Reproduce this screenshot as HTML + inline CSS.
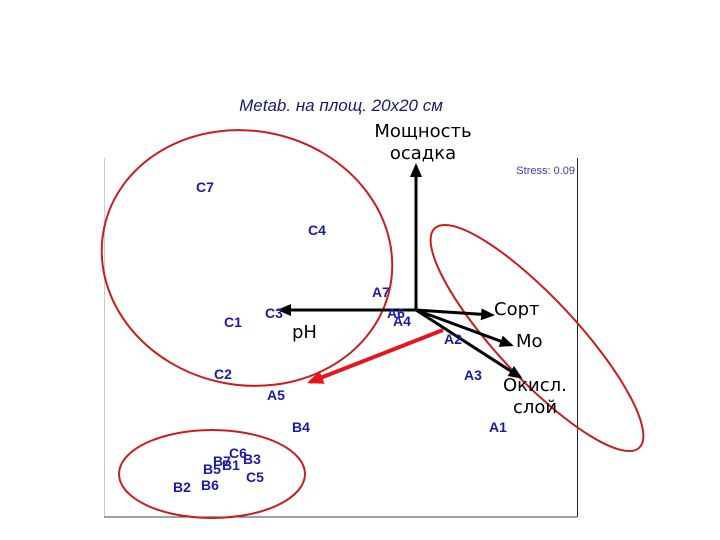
<!DOCTYPE html>
<html><head><meta charset="utf-8"><style>
body{margin:0;background:#fff;width:720px;height:540px;overflow:hidden}
svg{display:block}
.l{font-family:"Liberation Sans",sans-serif;font-weight:bold;font-size:14px;fill:#1a1aa8}
.b{font-family:"DejaVu Sans","Liberation Sans",sans-serif;font-size:18px;fill:#000}
</style></head><body>
<svg width="720" height="540" viewBox="0 0 720 540">
<defs>
<marker id="a" markerWidth="14" markerHeight="12" refX="11" refY="6" orient="auto" markerUnits="userSpaceOnUse"><path d="M0,0 L14,6 L0,12 z" fill="#000"/></marker>
<marker id="r" markerWidth="16" markerHeight="14" refX="13" refY="7" orient="auto" markerUnits="userSpaceOnUse"><path d="M0,0 L16,7 L0,14 z" fill="#e8141c"/></marker>
</defs>
<text x="341" y="111" text-anchor="middle" font-family="Liberation Sans,sans-serif" font-style="italic" font-size="17" fill="#1a1a70">Metab. на площ. 20x20 см</text>
<text x="575" y="174" text-anchor="end" font-family="Liberation Sans,sans-serif" font-size="11" fill="#3a3aa8">Stress: 0.09</text>
<line x1="104.5" y1="158" x2="104.5" y2="517" stroke="#ccc"/>
<line x1="104" y1="517" x2="577" y2="517" stroke="#444"/>
<line x1="577.5" y1="158" x2="577.5" y2="517" stroke="#222"/>
<ellipse cx="247" cy="258" rx="146" ry="127" transform="rotate(12 247 258)" fill="none" stroke="#c81e1e" stroke-width="2"/>
<ellipse cx="537" cy="338" rx="150" ry="40" transform="rotate(47 537 338)" fill="none" stroke="#c81e1e" stroke-width="2"/>
<ellipse cx="212" cy="474" rx="93" ry="44" fill="none" stroke="#c81e1e" stroke-width="2"/>
<g stroke="#000" stroke-width="3" fill="none">
<line x1="416" y1="310" x2="416" y2="166" marker-end="url(#a)"/>
<line x1="416" y1="310" x2="280" y2="310" marker-end="url(#a)"/>
<line x1="416" y1="310" x2="492" y2="315" marker-end="url(#a)"/>
<line x1="416" y1="310" x2="511" y2="345" marker-end="url(#a)"/>
<line x1="416" y1="310" x2="520" y2="377" marker-end="url(#a)"/>
</g>
<line x1="443" y1="330" x2="310" y2="382" stroke="#e8141c" stroke-width="4" marker-end="url(#r)"/>
<text class="b" x="423" y="137" text-anchor="middle">Мощность</text>
<text class="b" x="423" y="159" text-anchor="middle">осадка</text>
<text class="b" x="494" y="315">Сорт</text>
<text class="b" x="516" y="347">Мо</text>
<text class="b" x="503" y="391">Окисл.</text>
<text class="b" x="513" y="413">слой</text>
<text class="b" x="292" y="338">pH</text>
<text class="l" x="196" y="192">C7</text>
<text class="l" x="308" y="235">C4</text>
<text class="l" x="372" y="297">A7</text>
<text class="l" x="224" y="327">C1</text>
<text class="l" x="265" y="318">C3</text>
<text class="l" x="387" y="318">A6</text>
<text class="l" x="393" y="326">A4</text>
<text class="l" x="444" y="344">A2</text>
<text class="l" x="214" y="379">C2</text>
<text class="l" x="464" y="380">A3</text>
<text class="l" x="267" y="400">A5</text>
<text class="l" x="292" y="432">B4</text>
<text class="l" x="489" y="432">A1</text>
<text class="l" x="229" y="458">C6</text>
<text class="l" x="213" y="466">B7</text>
<text class="l" x="243" y="464">B3</text>
<text class="l" x="203" y="474">B5</text>
<text class="l" x="222" y="470">B1</text>
<text class="l" x="246" y="482">C5</text>
<text class="l" x="173" y="492">B2</text>
<text class="l" x="201" y="490">B6</text>
</svg>
</body></html>
